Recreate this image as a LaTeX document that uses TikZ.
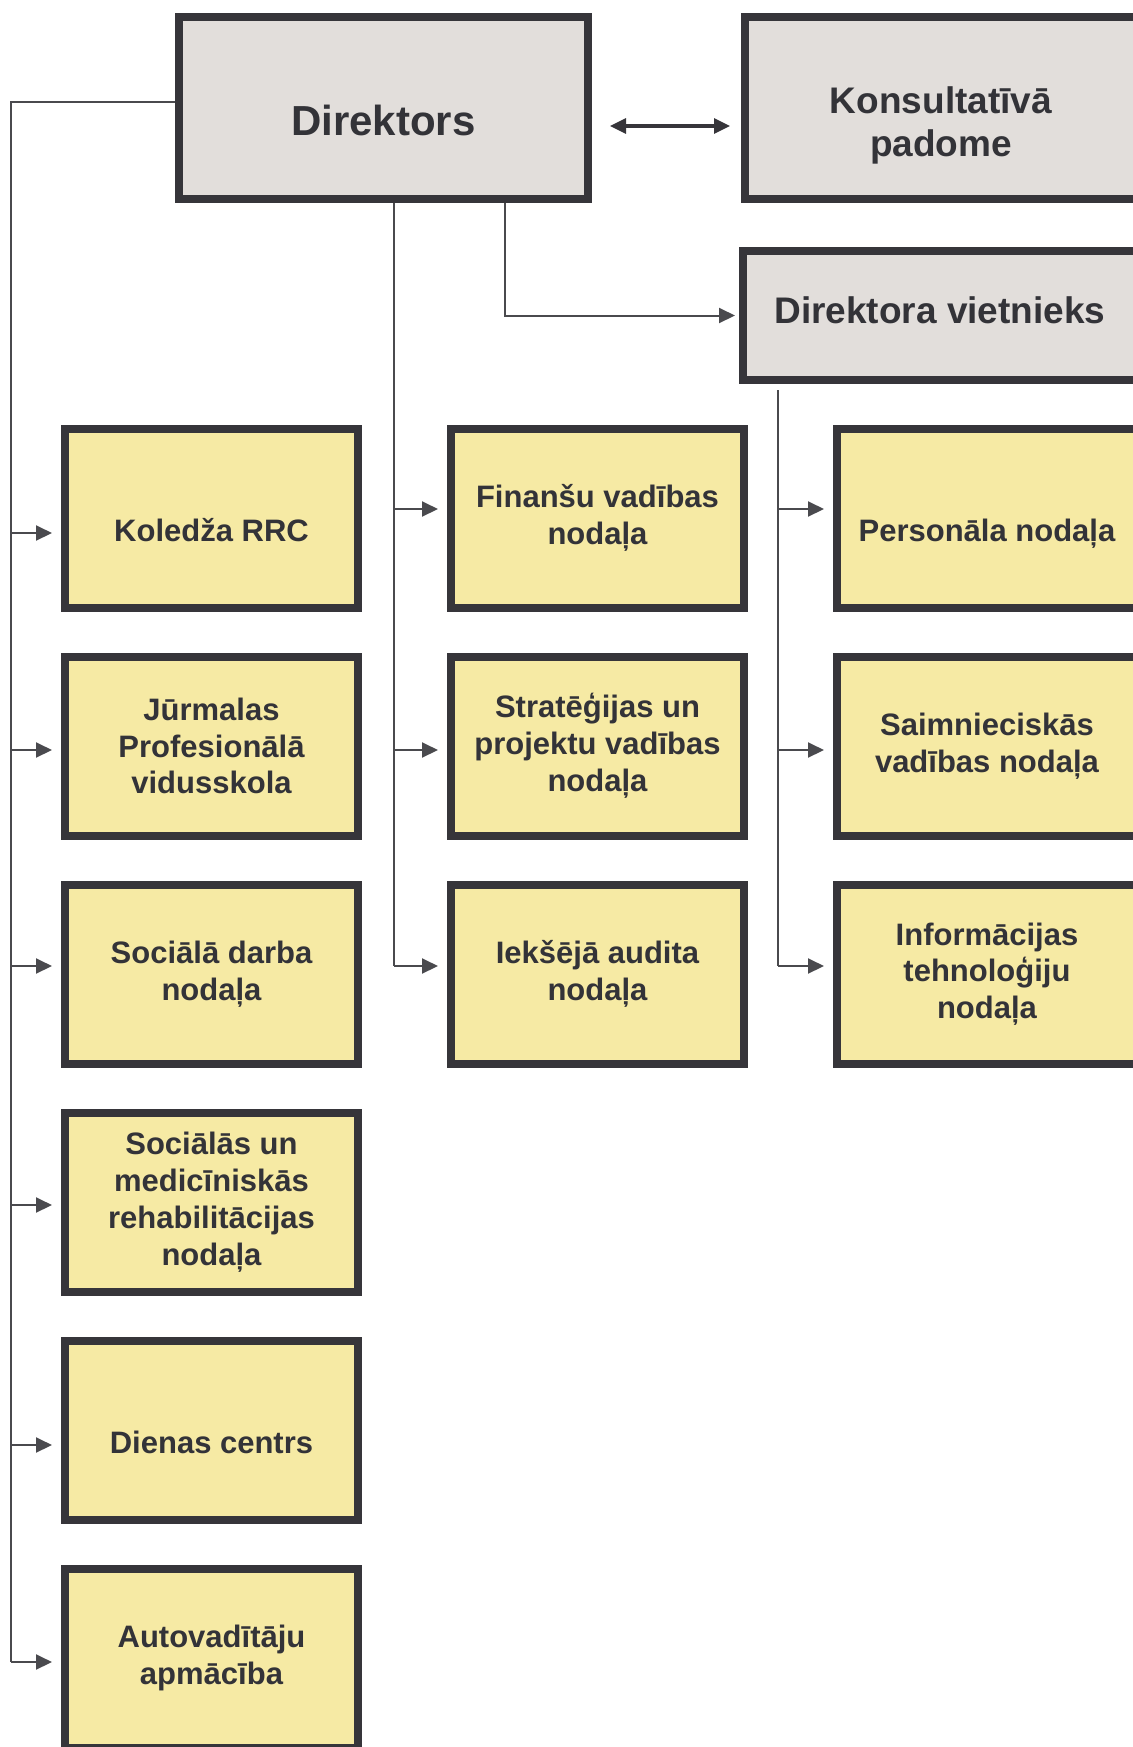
\documentclass[tikz,border=0pt]{standalone}
\usepackage{fontspec}
\setmainfont{Liberation Sans}
\usetikzlibrary{arrows.meta,positioning,calc}
\definecolor{ink}      {HTML}{333338}
\definecolor{frame}    {HTML}{36353A}
\definecolor{headFill} {HTML}{E2DEDB}
\definecolor{unitFill} {HTML}{F6EAA4}
\definecolor{wire}     {HTML}{4A4A4E}

\begin{document}
\begin{tikzpicture}[x=0.5pt, y=-0.5pt,
  every node/.style={font=\fontsize{15.5}{18.4}\selectfont\bfseries, text=ink, align=center},
  head/.style={rectangle, draw=frame, line width=4pt, fill=headFill,
               font=\fontsize{18.5}{21.7}\selectfont\bfseries},
  hdtxt/.style={yshift=-6pt, text=ink, font=\fontsize{18.5}{21.7}\selectfont\bfseries},
  unit/.style={rectangle, draw=frame, line width=4pt, fill=unitFill,
               minimum width=146.5pt, minimum height=89.5pt},
  oneline/.style={text height=23.5pt, text depth=0pt},
  link/.style={draw=wire, line width=1pt},
  arr/.style={link, -{Triangle[length=8pt,width=7.5pt]}, shorten >=4.5pt},
  dbl/.style={draw=frame, line width=1.6pt,
              {Triangle[length=8pt,width=7.5pt]}-{Triangle[length=8pt,width=7.5pt]}}
]
\useasboundingbox (0,0) rectangle (1133,1747);

% management
\node[head, minimum width=204.5pt, minimum height=91pt,
      label={[hdtxt, font=\fontsize{21}{25}\selectfont\bfseries]center:Direktors}] (dir) at (383.5,108) {};
\node[head, minimum width=196pt, minimum height=91pt,
      label={[hdtxt, yshift=-2.8pt]center:{Konsultatīvā\\padome}}] (kons) at (941,108) {};
\node[head, minimum width=197pt, minimum height=64.5pt, text depth=5.6pt] (vice) at (940,315.5) {Direktora vietnieks};

% left column
\node[unit, oneline] (kol) at (211.5,518)  {Koledža RRC};
\node[unit] (jur) at (211.5,746)  {Jūrmalas\\Profesionālā\\vidusskola};
\node[unit] (soc) at (211.5,974)  {Sociālā darba\\nodaļa};
\node[unit] (reh) at (211.5,1202) {Sociālās un\\medicīniskās\\rehabilitācijas\\nodaļa};
\node[unit, oneline] (day) at (211.5,1430) {Dienas centrs};
\node[unit] (drv) at (211.5,1658) {Autovadītāju\\apmācība};

% middle column
\node[unit] (fin) at (597.5,518) {Finanšu vadības\\nodaļa};
\node[unit] (str) at (597.5,746) {Stratēģijas un\\projektu vadības\\nodaļa};
\node[unit] (aud) at (597.5,974) {Iekšējā audita\\nodaļa};

% right column
\node[unit, oneline, minimum width=150pt] (per) at (987,518) {Personāla nodaļa};
\node[unit, minimum width=150pt] (eco) at (987,746) {Saimnieciskās\\vadības nodaļa};
\node[unit, minimum width=150pt] (ict) at (987,974) {Informācijas\\tehnoloģiju\\nodaļa};

\coordinate (lbot) at (11,1662);
\coordinate (mbot) at (394,966);
\coordinate (vx)   at (505,318);
\coordinate (rtop) at (778,390);
\coordinate (rbot) at (778,966);

\draw[dbl, shorten <=9pt, shorten >=5.5pt] ([yshift=-9pt]dir.east) -- ([yshift=-9pt]kons.west);

% director -> left units
\draw[link] ([yshift=3pt]dir.west) -| (lbot);
\draw[arr] ($(lbot |- kol.west)+(0,15)$) -- ($(kol.west)+(0,15)$);
\draw[arr] ($(lbot |- jur.west)+(0,4)$)  -- ($(jur.west)+(0,4)$);
\draw[arr] ($(lbot |- soc.west)+(0,-8)$) -- ($(soc.west)+(0,-8)$);
\draw[arr] ($(lbot |- reh.west)+(0,3)$)  -- ($(reh.west)+(0,3)$);
\draw[arr] ($(lbot |- day.west)+(0,15)$) -- ($(day.west)+(0,15)$);
\draw[arr] (lbot) -- ($(drv.west)+(0,4)$);

% director -> middle units
\draw[link] (dir.south -| mbot) -- (mbot);
\draw[arr] ($(mbot |- fin.west)+(0,-9)$) -- ($(fin.west)+(0,-9)$);
\draw[arr] ($(mbot |- str.west)+(0,4)$)  -- ($(str.west)+(0,4)$);
\draw[arr] (mbot) -- ($(aud.west)+(0,-8)$);

% director -> deputy
\draw[arr, shorten >=2pt] (dir.south -| vx) |- (vice.west);

% deputy -> right units
\draw[link] (rtop) -- (rbot);
\draw[arr] ($(rtop |- per.west)+(0,-9)$) -- ($(per.west)+(0,-9)$);
\draw[arr] ($(rtop |- eco.west)+(0,4)$)  -- ($(eco.west)+(0,4)$);
\draw[arr] (rbot) -- ($(ict.west)+(0,-8)$);
\end{tikzpicture}
\end{document}
